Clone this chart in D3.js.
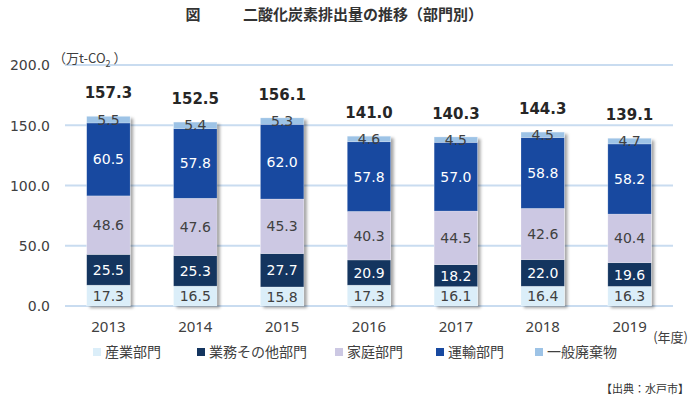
<!DOCTYPE html>
<html><head><meta charset="utf-8">
<script src="https://cdn.jsdelivr.net/npm/d3@7"></script>
<style>body{margin:0;background:#fff}</style>
</head><body>
<svg id="c" width="700" height="408"></svg>
<script>
const years = ["2013","2014","2015","2016","2017","2018","2019"];
const seriesNames = ["産業部門","業務その他部門","家庭部門","運輸部門","一般廃棄物"];
const industry = [17.3,16.5,15.8,17.3,16.1,16.4,16.3];
const commercial = [25.5,25.3,27.7,20.9,18.2,22.0,19.6];
const household = [48.6,47.6,45.3,40.3,44.5,42.6,40.4];
const transport = [60.5,57.8,62.0,57.8,57.0,58.8,58.2];
const waste = [5.5,5.4,5.3,4.6,4.5,4.5,4.7];
const totals = [157.3,152.5,156.1,141.0,140.3,144.3,139.1];
const yTicks = [0,50,100,150,200];
const colors = ["#dbeef9","#14355f","#ccc8e3","#1849a0","#9dc3e6"];
const textColors = ["#404040","#ffffff","#404040","#ffffff","#404040"];

const svg = d3.select("#c");
const num = "'DejaVu Sans', Verdana, sans-serif";
const jp = "'Noto Sans CJK JP', sans-serif";

const defs = svg.append("defs");
const f = defs.append("filter").attr("id","sh").attr("x","-20%").attr("y","-20%").attr("width","150%").attr("height","150%");
f.append("feDropShadow").attr("dx",3).attr("dy",2).attr("stdDeviation",1.5).attr("flood-color","#000").attr("flood-opacity",0.35);

const x = d3.scaleBand().domain(years).range([65,673]).paddingInner(0.5).paddingOuter(0.25);
const y = d3.scaleLinear().domain([0,200]).range([306,65]);

// title
svg.append("text").attr("x",193).attr("y",15).attr("dy","0.36em").attr("font-family",jp).attr("font-weight","bold")
  .attr("font-size",15).attr("fill","#333").attr("text-anchor","middle").text("図");
svg.append("text").attr("x",243).attr("y",15).attr("dy","0.36em").attr("font-family",jp).attr("font-weight","bold")
  .attr("font-size",15).attr("fill","#333").text("二酸化炭素排出量の推移（部門別）");

// grid
svg.append("g").selectAll("line").data(yTicks).join("line")
  .attr("x1",65).attr("x2",673).attr("y1",d=>y(d)).attr("y2",d=>y(d))
  .attr("stroke","#c9dcf0").attr("stroke-width",2);

// y axis labels
const yAxis = d3.axisLeft(y).tickValues(yTicks).tickFormat(d3.format(".1f")).tickSize(0).tickPadding(0);
const ga = svg.append("g").attr("transform","translate(50,0)").call(yAxis);
ga.select(".domain").remove();
ga.selectAll("text").attr("font-family",num).attr("font-size",14).attr("fill","#404040").attr("dy","0.35em");

// unit
const ut = svg.append("text").attr("x",53).attr("y",63).attr("font-family",jp).attr("font-size",13).attr("fill","#404040");
ut.append("tspan").text("（万t-CO");
ut.append("tspan").attr("font-size",9).attr("dy",4).text("2");
ut.append("tspan").attr("dy",-4).text(" ）");

// stacked
const rows = years.map((yr,i)=>({year:yr, s0:industry[i], s1:commercial[i], s2:household[i], s3:transport[i], s4:waste[i]}));
const keys = ["s0","s1","s2","s3","s4"];
const stacked = d3.stack().keys(keys)(rows);

// shadows per bar
svg.append("g").selectAll("rect").data(years.map((yr,i)=>({yr,t:totals[i]}))).join("rect")
  .attr("x",d=>x(d.yr)).attr("width",x.bandwidth())
  .attr("y",d=>y(d.t)).attr("height",d=>y(0)-y(d.t))
  .attr("fill","#fff").attr("filter","url(#sh)");

const layer = svg.append("g").selectAll("g").data(stacked).join("g").attr("fill",(d,i)=>colors[i]);
layer.selectAll("rect").data(d=>d).join("rect")
  .attr("x",d=>x(d.data.year)).attr("width",x.bandwidth())
  .attr("y",d=>y(d[1])).attr("height",d=>y(d[0])-y(d[1]))
  .attr("stroke","rgba(255,255,255,0.35)").attr("stroke-width",0.6);

// segment labels
stacked.forEach((s,si)=>{
  svg.append("g").selectAll("text").data(s).join("text")
    .attr("x",d=>x(d.data.year)+x.bandwidth()/2)
    .attr("y",d=>(y(d[0])+y(d[1]))/2)
    .attr("dy","0.36em").attr("text-anchor","middle")
    .attr("font-family",num).attr("font-size",14).attr("fill",textColors[si])
    .text(d=>d3.format(".1f")(d[1]-d[0]));
});

// totals
svg.append("g").selectAll("text").data(years.map((yr,i)=>({yr,t:totals[i]}))).join("text")
  .attr("x",d=>x(d.yr)+x.bandwidth()/2).attr("y",d=>y(d.t)-18)
  .attr("text-anchor","middle").attr("font-family",num).attr("font-weight","bold")
  .attr("font-size",15).attr("fill","#262626").text(d=>d3.format(".1f")(d.t));

// x labels
const xAxis = d3.axisBottom(x).tickSize(0).tickPadding(0);
const gx = svg.append("g").attr("transform","translate(0,327)").call(xAxis);
gx.select(".domain").remove();
gx.selectAll("text").attr("font-family","'Noto Sans', sans-serif").attr("font-size",15).attr("fill","#404040").attr("dy","0.35em");
svg.append("text").attr("x",688).attr("y",337).attr("dy","0.36em").attr("text-anchor","end").attr("font-family",jp)
  .attr("font-size",13).attr("fill","#404040").text("(年度)");

// legend
const legX = [93,197,335,436,535];
const lg = svg.append("g").selectAll("g").data(seriesNames).join("g")
  .attr("transform",(d,i)=>`translate(${legX[i]},352)`);
lg.append("rect").attr("x",0).attr("y",-4).attr("width",8).attr("height",8).attr("fill",(d,i)=>colors[i]);
lg.append("text").attr("x",12).attr("y",0).attr("dy","0.36em").attr("font-family",jp).attr("font-size",14)
  .attr("fill","#404040").text(d=>d);

// source
svg.append("text").attr("x",689).attr("y",389).attr("dy","0.36em").attr("text-anchor","end").attr("font-family",jp)
  .attr("font-size",11).attr("fill","#333").text("【出典：水戸市】");
</script>
</body></html>
